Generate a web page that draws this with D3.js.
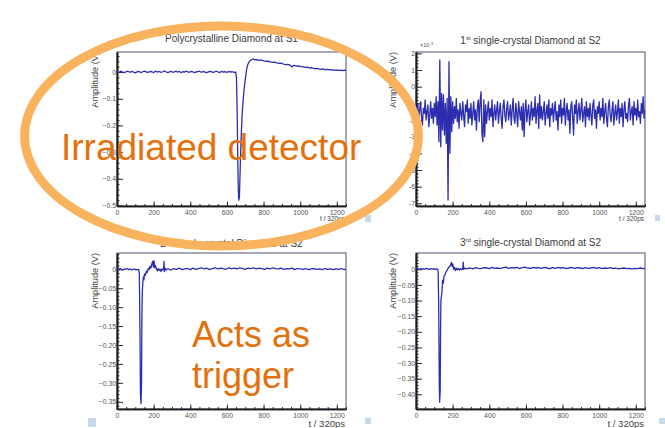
<!DOCTYPE html>
<html>
<head>
<meta charset="utf-8">
<script src="https://cdn.jsdelivr.net/npm/d3@7"></script>
<style>
  body { margin: 0; background: #fff; }
  svg { display: block; font-family: "Liberation Sans", Arial, sans-serif; }
</style>
</head>
<body>
<div id="chart"></div>
<script>
(function () {
  'use strict';

  // ---- data ----
  var timeTicks = [0, 200, 400, 600, 800, 1000, 1200];

  // Polycrystalline diamond at S1 (V): flat baseline sampled every 10, then pulse + slow tail
  var polyBaseStep = 10;
  var polyBase = [
    0.002, -0.001, 0.003, 0.000, -0.002, 0.001, 0.003, -0.001, 0.002, 0.000,
    -0.003, 0.001, 0.002, -0.002, 0.001, 0.003, 0.000, -0.001, 0.002, 0.001,
    -0.002, 0.003, 0.000, 0.002, -0.001, 0.001, 0.004, 0.000, -0.002, 0.002,
    0.001, -0.001, 0.003, 0.000, 0.002, -0.002, 0.001, 0.000, 0.003, -0.001,
    0.001, 0.002, -0.002, 0.000, 0.001, 0.003, -0.001, 0.002, 0.000, -0.002,
    0.001, 0.002, 0.000, -0.001, 0.003, 0.001, -0.002, 0.002, 0.000, 0.001,
    -0.001, 0.002, 0.000, 0.001, -0.001
  ];
  var polyPulse = [
    [648, 0.000], [652, -0.02], [656, -0.15], [659, -0.32], [662, -0.44], [665, -0.48],
    [668, -0.47], [671, -0.40], [674, -0.32], [678, -0.24], [683, -0.16], [688, -0.11],
    [693, -0.07], [698, -0.04], [703, -0.015], [708, 0.012], [714, 0.028], [721, 0.038],
    [729, 0.044], [737, 0.047], [745, 0.049], [752, 0.046], [764, 0.046], [776, 0.044],
    [788, 0.045], [800, 0.042], [812, 0.040], [824, 0.041], [836, 0.038], [848, 0.036],
    [860, 0.037], [872, 0.034], [884, 0.032], [896, 0.033], [908, 0.030], [920, 0.028],
    [932, 0.029], [944, 0.026], [956, 0.019], [962, 0.024], [968, 0.025], [980, 0.022],
    [992, 0.023], [1004, 0.020], [1016, 0.019], [1028, 0.017], [1040, 0.018], [1052, 0.015],
    [1064, 0.016], [1076, 0.013], [1088, 0.014], [1100, 0.012], [1112, 0.010], [1124, 0.012],
    [1136, 0.009], [1148, 0.010], [1160, 0.008], [1172, 0.009], [1184, 0.006], [1196, 0.008],
    [1208, 0.006], [1220, 0.007], [1232, 0.005], [1244, 0.007], [1250, 0.006]
  ];

  // 1st single-crystal diamond at S2 (x10^-3 V), sampled every 5
  var scd1Step = 5;
  var scd1Amp = [
    -1.2, -1.9, -1.0, -2.1, -1.4, -0.9, -1.8, -2.3, -1.3, -1.6,
    -0.8, -2.0, -1.5, -1.1, -2.4, -1.7, -0.9, -1.9, -1.3, -2.2,
    -1.0, -1.8, -0.6, -2.3, -0.9, -3.3, 1.6, -3.6, -0.4, -2.6,
    -0.5, -2.9, -1.0, -3.4, -0.7, -6.8, 1.5, -4.0, -0.6, -2.7,
    -0.9, -2.2, -1.2, -1.9, -0.7, -2.1, -1.4, -2.5, -1.0, -1.6,
    -2.0, -0.9, -1.7, -2.4, -1.1, -1.5, -0.8, -2.2, -1.3, -1.9,
    -1.0, -2.3, -1.6, -0.9, -2.0, -1.4, -2.6, -1.2, -0.8, -2.1,
    -0.9, -0.3, -2.8, -3.3, -0.8, -3.0, -1.1, -2.2, -1.5, -0.9,
    -2.0, -1.3, -1.8, -0.8, -2.4, -1.6, -1.1, -2.0, -1.4, -0.9,
    -2.2, -1.5, -1.0, -1.9, -2.5, -1.2, -0.8, -1.7, -2.1, -1.3,
    -0.9, -2.0, -1.6, -1.1, -2.3, -1.4, -0.7, -1.9, -2.2, -1.0,
    -1.6, -2.4, -0.9, -1.5, -2.0, -1.2, -2.6, -1.0, -3.0, -1.4,
    -0.8, -2.1, -1.5, -1.1, -2.3, -1.7, -0.9, -2.0, -1.3, -1.8,
    -0.6, -2.2, -1.4, -1.0, -2.5, -0.5, -1.9, -1.2, -2.0, -1.5,
    -0.9, -2.3, -1.6, -1.1, -1.9, -0.8, -2.4, -1.3, -1.7, -1.0,
    -2.1, -1.4, -0.9, -2.0, -1.5, -2.6, -1.1, -1.8, -0.8, -2.2,
    -1.3, -1.7, -0.7, -2.3, -1.5, -1.0, -2.0, -1.4, -2.8, -1.2,
    -0.9, -1.8, -2.9, -1.1, -1.6, -0.8, -2.2, -1.5, -1.0, -2.0,
    -1.4, -0.7, -2.1, -1.6, -1.2, -2.4, -0.9, -1.8, -1.3, -2.0,
    -1.0, -1.7, -2.3, -1.1, -0.8, -1.9, -1.4, -2.5, -1.2, -1.6,
    -0.9, -2.0, -1.3, -1.8, -0.7, -2.2, -1.5, -1.0, -1.9, -2.4,
    -1.2, -0.8, -1.7, -2.1, -1.4, -0.9, -2.3, -1.6, -1.1, -2.0,
    -1.5, -0.8, -2.2, -1.3, -1.8, -1.0, -2.4, -1.4, -0.9, -1.9,
    -1.6, -2.1, -1.1, -0.7, -2.0, -1.5, -1.2, -2.3, -0.9, -1.7,
    -1.3, -2.0, -0.8, -1.8, -1.5, -2.2, -1.0, -1.6, -0.6, -1.9, -1.4
  ];

  // 2nd single-crystal diamond at S2 (V): pulse region, then baseline every 15 from 280
  var scd2Head = [
    [0, 0.001], [8, -0.001], [16, 0.002], [24, 0.000], [32, -0.002], [40, 0.001], [48, 0.000],
    [56, 0.002], [64, -0.001], [72, 0.001], [80, -0.002], [88, 0.000], [96, 0.001], [104, -0.002],
    [112, 0.000], [118, -0.001], [122, -0.01], [125, -0.15], [128, -0.33], [131, -0.355],
    [134, -0.30], [136, -0.12], [138, -0.06], [141, -0.035], [144, -0.02], [147, -0.028],
    [150, -0.012], [155, -0.016], [160, -0.005], [165, -0.009], [170, 0.002], [175, -0.001],
    [180, 0.008], [185, 0.003], [190, 0.014], [195, 0.021], [198, 0.006], [202, 0.023],
    [206, 0.004], [210, 0.010], [215, 0.001], [220, -0.004], [225, 0.002], [230, -0.003],
    [235, 0.000], [240, -0.006], [245, 0.001], [250, -0.002], [254, 0.000], [257, 0.021],
    [259, -0.006], [262, 0.003], [268, -0.002], [275, 0.001]
  ];
  var scd2TailStart = 280, scd2TailStep = 15;
  var scd2Tail = [
    0.001, -0.002, 0.002, 0.000, 0.003, -0.001, 0.001, 0.002, -0.001, 0.003,
    0.000, 0.002, 0.004, 0.001, 0.003, -0.001, 0.002, 0.004, 0.001, 0.003,
    0.002, 0.000, 0.004, 0.002, 0.003, 0.001, 0.004, 0.002, 0.000, 0.003,
    0.002, 0.004, 0.001, 0.003, 0.002, 0.000, 0.003, 0.001, 0.004, 0.002,
    0.001, 0.003, 0.000, 0.002, 0.001, 0.003, -0.001, 0.002, 0.001, 0.000,
    0.002, -0.001, 0.001, 0.002, 0.000, 0.001, -0.001, 0.002, 0.000, 0.001,
    -0.001, 0.001, 0.000, 0.002, -0.001, 0.001
  ];

  // 3rd single-crystal diamond at S2 (V)
  var scd3Head = [
    [0, 0.001], [8, 0.003], [16, 0.000], [24, 0.002], [32, -0.001], [40, 0.002], [48, 0.000],
    [56, 0.003], [64, 0.001], [72, -0.001], [80, 0.002], [88, 0.000], [96, 0.002], [104, -0.001],
    [112, 0.001], [118, 0.000], [121, -0.01], [124, -0.12], [127, -0.36], [129, -0.425],
    [132, -0.39], [134, -0.20], [136, -0.10], [139, -0.085], [142, -0.07], [145, -0.035],
    [149, -0.045], [153, -0.022], [158, -0.018], [164, -0.008], [170, -0.003], [176, 0.004],
    [182, 0.008], [188, 0.012], [193, 0.022], [197, 0.009], [201, 0.017], [205, 0.000],
    [210, 0.006], [215, -0.004], [220, 0.004], [226, -0.002], [232, 0.003], [238, -0.003],
    [244, 0.002], [250, -0.001], [255, 0.001], [258, 0.023], [260, 0.000], [265, 0.004], [272, 0.001]
  ];
  var scd3TailStart = 280, scd3TailStep = 15;
  var scd3Tail = [
    0.002, 0.004, 0.001, 0.005, 0.003, 0.002, 0.005, 0.004, 0.002, 0.006,
    0.003, 0.004, 0.002, 0.005, 0.007, 0.003, 0.005, 0.004, 0.006, 0.002,
    0.005, 0.007, 0.004, 0.003, 0.006, 0.004, 0.005, 0.003, 0.006, 0.004,
    0.002, 0.005, 0.003, 0.006, 0.004, 0.005, 0.002, 0.004, 0.006, 0.003,
    0.005, 0.004, 0.002, 0.005, 0.003, 0.004, 0.006, 0.003, 0.005, 0.002,
    0.004, 0.003, 0.005, 0.002, 0.004, 0.001, 0.003, 0.004, 0.002, 0.003,
    0.001, 0.003, 0.002, 0.004, 0.002, 0.003
  ];

  var polyTicks = [0, -0.1, -0.2, -0.3, -0.4, -0.5];
  var scd1Ticks = [2, 1, 0, -1, -2, -3, -4, -5, -6, -7];
  var scd2Ticks = [0, -0.05, -0.10, -0.15, -0.20, -0.25, -0.30, -0.35];
  var scd3Ticks = [0, -0.05, -0.10, -0.15, -0.20, -0.25, -0.30, -0.35, -0.40];

  // ---- assemble series ----
  function fromStep(vals, start, step) {
    return vals.map(function(v, i) { return { t: start + i * step, v: v }; });
  }
  function fromPairs(pairs) {
    return pairs.map(function(p) { return { t: p[0], v: p[1] }; });
  }

  var polySeries = fromStep(polyBase, 0, polyBaseStep).concat(fromPairs(polyPulse));
  var scd1Series = fromStep(scd1Amp, 0, scd1Step);
  var scd2Series = fromPairs(scd2Head).concat(fromStep(scd2Tail, scd2TailStart, scd2TailStep));
  var scd3Series = fromPairs(scd3Head).concat(fromStep(scd3Tail, scd3TailStart, scd3TailStep));

  var width = 665, height = 428;
  var lineColor = '#2d2db0';
  var textColor = '#3a3a3a';

  var svg = d3.select('#chart')
      .append('svg')
      .attr('width', width)
      .attr('height', height);

  var fmt1 = function(d) { return d === 0 ? '0' : d3.format('.1f')(d); };
  var fmt2 = function(d) { return d === 0 ? '0' : d3.format('.2f')(d); };
  var fmt0 = function(d) { return String(d); };

  var panels = [
    { id: 'p1', left: 117, right: 346, top: 52, bottom: 206, yDomain: [-0.502, 0.075],
      ticks: polyTicks, minor: 0.02, fmt: fmt1, series: polySeries,
      title: ['Polycrystalline Diamond at S1', '', ''], titleY: 42,
      xLabelSize: 6.5, xLabelY: 220.5, ampX: 97.5 },
    { id: 'p2', left: 416, right: 645, top: 52, bottom: 206, yDomain: [-7.16, 2.08],
      ticks: scd1Ticks, minor: 0.2, fmt: fmt0, series: scd1Series,
      title: ['1', 'st', ' single-crystal Diamond at S2'], titleY: 44,
      xLabelSize: 6.5, xLabelY: 220.5, ampX: 395.5, exponent: true },
    { id: 'p3', left: 117, right: 346, top: 253, bottom: 409, yDomain: [-0.369, 0.043],
      ticks: scd2Ticks, minor: 0.01, fmt: fmt2, series: scd2Series,
      title: ['2', 'nd', ' single-crystal Diamond at S2'], titleY: 247,
      xLabelSize: 9.5, xLabelY: 426.5, ampX: 97.5 },
    { id: 'p4', left: 416, right: 645, top: 253, bottom: 409, yDomain: [-0.447, 0.052],
      ticks: scd3Ticks, minor: 0.01, fmt: fmt2, series: scd3Series,
      title: ['3', 'rd', ' single-crystal Diamond at S2'], titleY: 246,
      xLabelSize: 9.5, xLabelY: 426.5, ampX: 395.5 }
  ];

  var minorTime = d3.range(0, 1251, 50);

  panels.forEach(function(p) {
    var x = d3.scaleLinear().domain([0, 1250]).range([p.left, p.right]);
    var y = d3.scaleLinear().domain(p.yDomain).range([p.bottom, p.top]);
    var g = svg.append('g').attr('class', 'panel ' + p.id);

    g.append('rect')
       .attr('x', p.left)
       .attr('y', p.top)
       .attr('width', p.right - p.left)
       .attr('height', p.bottom - p.top)
       .attr('fill', '#fff')
       .attr('stroke', '#6c6c86')
       .attr('stroke-width', 1.2);

    g.append('clipPath')
       .attr('id', 'clip-' + p.id)
       .append('rect')
       .attr('x', p.left)
       .attr('y', p.top)
       .attr('width', p.right - p.left)
       .attr('height', p.bottom - p.top);

    // x axis: minor then major ticks, pointing into the frame
    var xg = g.append('g')
       .attr('class', 'x axis')
       .attr('transform', 'translate(0,' + p.bottom + ')');
    xg.append('g')
       .call(d3.axisBottom(x).tickValues(minorTime).tickSize(-2).tickSizeOuter(0).tickFormat(''));
    xg.append('g')
       .call(d3.axisBottom(x).tickValues(timeTicks).tickSize(-4.5).tickSizeOuter(0)
         .tickPadding(4).tickFormat(d3.format('d')));

    // y axis
    var yMinor = d3.range(Math.ceil(p.yDomain[0] / p.minor) * p.minor, p.yDomain[1], p.minor);
    var yg = g.append('g')
       .attr('class', 'y axis')
       .attr('transform', 'translate(' + p.left + ',0)');
    yg.append('g')
       .call(d3.axisLeft(y).tickValues(yMinor).tickSize(-2.5).tickSizeOuter(0).tickFormat(''));
    yg.append('g')
       .call(d3.axisLeft(y).tickValues(p.ticks).tickSize(-6).tickSizeOuter(0)
         .tickPadding(1).tickFormat(p.fmt));

    g.selectAll('.axis path.domain')
       .attr('stroke', '#1c1c1c')
       .attr('stroke-width', 1.6);
    g.selectAll('.axis line')
       .attr('stroke', '#2a2a2a')
       .attr('stroke-width', 1);
    g.selectAll('.axis text')
       .attr('fill', '#555')
       .attr('font-size', 6.8)
       .attr('font-family', '"Liberation Sans", Arial, sans-serif');

    // trace
    g.append('path')
       .datum(p.series)
       .attr('clip-path', 'url(#clip-' + p.id + ')')
       .attr('fill', 'none')
       .attr('stroke', lineColor)
       .attr('stroke-width', 1.3)
       .attr('stroke-linejoin', 'round')
       .attr('d', d3.line()
         .x(function(d) { return x(d.t); })
         .y(function(d) { return y(d.v); }));

    // title
    var title = g.append('text')
       .attr('x', (p.left + p.right) / 2)
       .attr('y', p.titleY)
       .attr('text-anchor', 'middle')
       .attr('font-size', 10)
       .attr('fill', textColor);
    title.append('tspan').text(p.title[0]);
    if (p.title[1]) {
      title.append('tspan')
         .attr('font-size', 6)
         .attr('dy', -4)
         .text(p.title[1]);
      title.append('tspan')
         .attr('dy', 4)
         .text(p.title[2]);
    }

    // axis titles
    g.append('text')
       .attr('transform', 'translate(' + p.ampX + ',' + p.top + ') rotate(-90)')
       .attr('text-anchor', 'end')
       .attr('font-size', 9.2)
       .attr('fill', '#444')
       .text('Amplitude (V)');

    g.append('text')
       .attr('x', p.right - 1)
       .attr('y', p.xLabelY)
       .attr('text-anchor', 'end')
       .attr('font-size', p.xLabelSize)
       .attr('fill', '#444')
       .text('t / 320ps');

    if (p.exponent) {
      var ex = g.append('text')
         .attr('x', p.left + 4)
         .attr('y', p.top - 5)
         .attr('font-size', 5.5)
         .attr('fill', '#555');
      ex.append('tspan').text('\u00d710');
      ex.append('tspan').attr('dy', -2.5).attr('font-size', 4).text('-3');
    }
  });

  // slide placeholders (small light-blue squares)
  var squares = [[365, 215, 6, 7], [655, 215, 5, 6], [88, 418, 8, 9], [365, 418, 6, 6], [659, 418, 6, 6]];
  svg.selectAll('.sq')
     .data(squares)
     .enter()
     .append('rect')
     .attr('class', 'sq')
     .attr('x', function(d) { return d[0]; })
     .attr('y', function(d) { return d[1]; })
     .attr('width', function(d) { return d[2]; })
     .attr('height', function(d) { return d[3]; })
     .attr('fill', '#c9d9ec');

  // annotation overlay
  svg.append('ellipse')
     .attr('cx', 221.5)
     .attr('cy', 136)
     .attr('rx', 197)
     .attr('ry', 110)
     .attr('fill', 'none')
     .attr('stroke', '#f9b35e')
     .attr('stroke-width', 9);

  var orange = '#e4700c';
  svg.append('text')
     .attr('x', 61)
     .attr('y', 160)
     .attr('font-size', 37)
     .attr('fill', orange)
     .text('Irradiated detector');

  svg.append('text')
     .attr('x', 192)
     .attr('y', 347)
     .attr('font-size', 36)
     .attr('fill', orange)
     .text('Acts as');

  svg.append('text')
     .attr('x', 192)
     .attr('y', 388)
     .attr('font-size', 36)
     .attr('fill', orange)
     .text('trigger');
}());
</script>
</body>
</html>
